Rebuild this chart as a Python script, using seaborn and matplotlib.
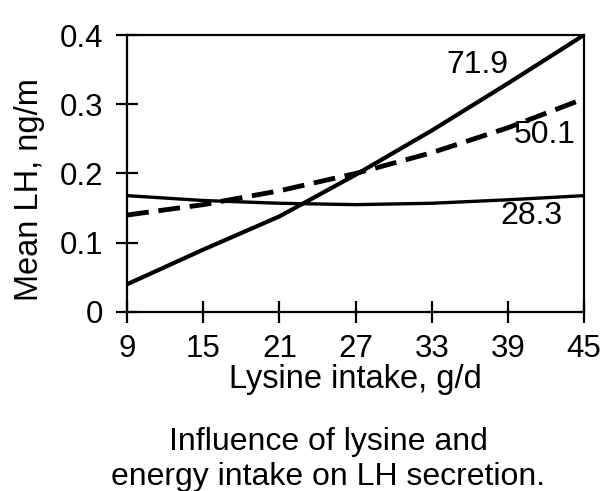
"""
Grafico: LH medio segun consumo de lisina y energia
"""

import numpy as np
import pandas as pd
import matplotlib
matplotlib.use("Agg")
import matplotlib.pyplot as plt
import seaborn as sns


# =====================================================
# 1. DATOS
# =====================================================

lisina = [9, 15, 21, 27, 33, 39, 45]

lh_719 = [0.040, 0.090, 0.138, 0.198, 0.262, 0.330, 0.400]
lh_501 = [0.140, 0.155, 0.175, 0.200, 0.230, 0.266, 0.308]
lh_283 = [0.168, 0.161, 0.157, 0.155, 0.157, 0.162, 0.168]

energia = ["71.9", "50.1", "28.3"]

yticks = [0, 0.1, 0.2, 0.3, 0.4]
ytick_labels = ["0", "0.1", "0.2", "0.3", "0.4"]

df = pd.DataFrame({
    "lisina": lisina * 3,
    "lh": lh_719 + lh_501 + lh_283,
    "energia": np.repeat(energia, len(lisina)),
})


# =====================================================
# 2. GRAFICO
# =====================================================

sns.set_style("white")
plt.rcParams["font.family"] = ["Liberation Sans", "DejaVu Sans"]
plt.rcParams["text.color"] = "black"

fig = plt.figure(figsize=(6, 4.91), dpi=100)
ax = fig.add_axes([0.2117, 0.3646, 0.7616, 0.5641])

sns.lineplot(data=df, x="lisina", y="lh", hue="energia", style="energia",
             palette={e: "black" for e in energia},
             dashes={"71.9": "", "50.1": (4.5, 2.0), "28.3": ""},
             size="energia", sizes={"71.9": 3.0, "50.1": 3.5, "28.3": 2.4},
             legend=False, ax=ax)

# etiquetas de cada curva
ax.text(36.6, 0.357, "71.9", fontsize=23, ha="center", va="center")
ax.text(41.9, 0.256, "50.1", fontsize=23, ha="center", va="center")
ax.text(40.9, 0.138, "28.3", fontsize=23, ha="center", va="center")

ax.set_xlim(9, 45)
ax.set_ylim(0, 0.4)
ax.set_xticks(lisina)
ax.set_yticks(yticks)
ax.set_yticklabels(ytick_labels)

for lado in ["top", "right", "bottom", "left"]:
    ax.spines[lado].set_color("black")
    ax.spines[lado].set_linewidth(1.6)

ax.tick_params(axis="both", direction="inout", length=16, width=1.6,
               color="black", labelsize=22.5, labelcolor="black",
               bottom=True, left=True)
ax.tick_params(axis="y", pad=9)
ax.tick_params(axis="x", pad=8)

ax.set_xlabel("Lysine intake, g/d", fontsize=23.5, labelpad=0, color="black")
ax.set_ylabel("")
fig.text(0.05, 0.613, "Mean LH, ng/m", fontsize=23.5, rotation=90,
         ha="center", va="center")

# pie de figura (fuente estrecha)
narrow = ["Liberation Sans Narrow", "Liberation Sans"]
fig.text(0.547, 1 - 450 / 491, "Influence of lysine and", fontsize=23,
         ha="center", va="baseline", family=narrow)
fig.text(0.547, 1 - 485 / 491, "energy intake on LH secretion.", fontsize=23,
         ha="center", va="baseline", family=narrow)

plt.savefig("out.png", dpi=100)
